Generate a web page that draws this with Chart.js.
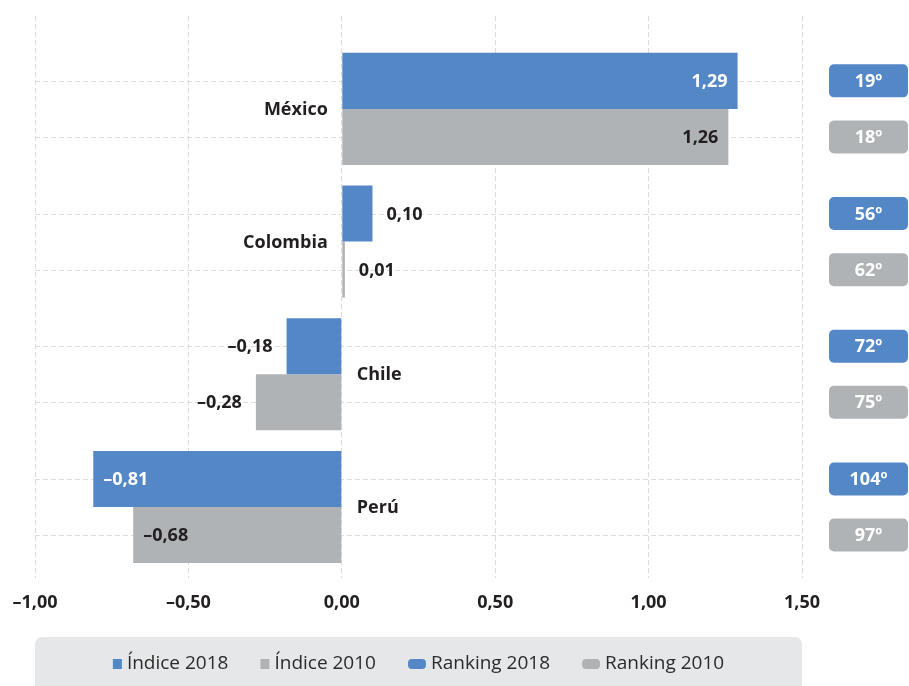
<!DOCTYPE html>
<html>
<head>
<meta charset="utf-8">
<script src="https://cdn.jsdelivr.net/npm/chart.js@4/dist/chart.umd.min.js"></script>
<style>
  html, body { margin: 0; padding: 0; background: #ffffff; }
  #wrap { width: 909px; height: 686px; }
</style>
</head>
<body>
<div id="wrap"><canvas id="chart" width="909" height="686"></canvas></div>
<script>
// Countries and their index values
const categories = ['México', 'Colombia', 'Chile', 'Perú'];
const indice2018 = [1.29, 0.10, -0.18, -0.81];
const indice2010 = [1.26, 0.01, -0.28, -0.68];
// Position in the world ranking
const ranking2018 = [19, 56, 72, 104];
const ranking2010 = [18, 62, 75, 97];
// X axis ticks
const xTicks = [-1.00, -0.50, 0.00, 0.50, 1.00, 1.50];

const BLUE = '#5387c6';
const GRAY = '#b0b3b6';
const DARK = '#231f20';
const FONT = '"Open Sans", "Noto Sans", sans-serif';

const fmt = v => {
  const s = Math.abs(v).toFixed(2).replace('.', ',');
  return v < 0 ? '\u2013' + s : s;
};

// Dashed horizontal guides through each bar centre
const barGuides = {
  id: 'barGuides',
  beforeDatasetsDraw(chart) {
    const {ctx, chartArea} = chart;
    ctx.save();
    ctx.strokeStyle = '#dcdcdc';
    ctx.lineWidth = 1;
    ctx.setLineDash([5, 3]);
    chart.data.datasets.forEach((ds, di) => {
      chart.getDatasetMeta(di).data.forEach(el => {
        const y = Math.round(el.y) + 0.5;
        ctx.beginPath();
        ctx.moveTo(chartArea.left, y);
        ctx.lineTo(chartArea.right, y);
        ctx.stroke();
      });
    });
    ctx.restore();
  }
};

// Value labels, country names and ranking badges
const annotations = {
  id: 'annotations',
  afterDatasetsDraw(chart) {
    const {ctx, chartArea} = chart;
    const xs = chart.scales.x, ys = chart.scales.y;
    const zero = xs.getPixelForValue(0);
    ctx.save();
    ctx.textBaseline = 'middle';
    ctx.font = 'bold 18px ' + FONT;

    chart.data.datasets.forEach((ds, di) => {
      chart.getDatasetMeta(di).data.forEach((el, i) => {
        const v = ds.data[i].x;
        const sign = v >= 0 ? 1 : -1;
        let x, align, color;
        if (Math.abs(v) >= 0.5) {
          x = el.x - sign * 10;
          align = sign > 0 ? 'right' : 'left';
          color = di === 0 ? '#ffffff' : DARK;
        } else {
          x = el.x + sign * 14;
          align = sign > 0 ? 'left' : 'right';
          color = DARK;
        }
        ctx.fillStyle = color;
        ctx.textAlign = align;
        ctx.fillText(fmt(v), x, el.y + 1);

        // ranking badge
        const rank = (di === 0 ? ranking2018 : ranking2010)[i];
        const bx = chartArea.right + 27, bw = 79, bh = 33;
        ctx.fillStyle = di === 0 ? BLUE : GRAY;
        ctx.beginPath();
        ctx.roundRect(bx, el.y - bh / 2, bw, bh, 5);
        ctx.fill();
        ctx.fillStyle = '#ffffff';
        ctx.textAlign = 'center';
        ctx.fillText(rank + '\u00ba', bx + bw / 2, el.y + 1);
      });
    });

    // country names beside the zero line
    ctx.fillStyle = DARK;
    categories.forEach((name, i) => {
      const y = ys.getPixelForValue(i);
      if (indice2018[i] >= 0) {
        ctx.textAlign = 'right';
        ctx.fillText(name, zero - 14, y + 1);
      } else {
        ctx.textAlign = 'left';
        ctx.fillText(name, zero + 15, y + 1);
      }
    });
    ctx.restore();
  }
};

// Legend strip under the axis
const legendStrip = {
  id: 'legendStrip',
  afterDraw(chart) {
    const {ctx, chartArea, height} = chart;
    const top = height - 49;
    ctx.save();
    ctx.fillStyle = '#e6e7e9';
    ctx.beginPath();
    ctx.roundRect(chartArea.left, top, chartArea.right - chartArea.left, 60, [7, 7, 0, 0]);
    ctx.fill();

    const items = [
      {text: 'Índice 2018', color: BLUE, w: 9, h: 10, r: 0},
      {text: 'Índice 2010', color: GRAY, w: 9, h: 10, r: 0},
      {text: 'Ranking 2018', color: BLUE, w: 18, h: 10, r: 4},
      {text: 'Ranking 2010', color: GRAY, w: 18, h: 10, r: 4}
    ];
    ctx.font = '19px ' + FONT;
    const gap = 5, spacing = 32;
    items.forEach(it => { it.tw = ctx.measureText(it.text).width; it.total = it.w + gap + it.tw; });
    const totalW = items.reduce((s, it) => s + it.total, 0) + spacing * (items.length - 1);
    let x = (chartArea.left + chartArea.right) / 2 - totalW / 2;
    const cy = top + 27;
    ctx.textBaseline = 'middle';
    ctx.textAlign = 'left';
    items.forEach(it => {
      ctx.fillStyle = it.color;
      ctx.beginPath();
      ctx.roundRect(x, cy - it.h / 2, it.w, it.h, it.r);
      ctx.fill();
      ctx.fillStyle = '#2b2b2b';
      ctx.fillText(it.text, x + it.w + gap, cy);
      x += it.total + spacing;
    });
    ctx.restore();
  }
};

new Chart(document.getElementById('chart'), {
  type: 'bar',
  data: {
    datasets: [
      {
        label: 'Índice 2018',
        data: indice2018.map((v, i) => ({x: v, y: i})),
        backgroundColor: BLUE
      },
      {
        label: 'Índice 2010',
        data: indice2010.map((v, i) => ({x: v, y: i})),
        backgroundColor: GRAY
      }
    ]
  },
  options: {
    indexAxis: 'y',
    responsive: false,
    animation: false,
    datasets: {
      bar: {categoryPercentage: 0.845, barPercentage: 1.0}
    },
    layout: {padding: {left: 35, right: 107, top: 16, bottom: 58}},
    scales: {
      x: {
        type: 'linear',
        min: -1,
        max: 1.5,
        afterBuildTicks: scale => { scale.ticks = xTicks.map(v => ({value: v})); },
        afterFit: scale => {
          scale.paddingLeft = 0;
          scale.paddingRight = 0;
          scale.height = 50;
        },
        grid: {color: '#dcdcdc', lineWidth: 1, drawTicks: false},
        border: {display: false, dash: [5, 3]},
        ticks: {
          padding: 14,
          color: DARK,
          font: {family: FONT, size: 18, weight: 'bold'},
          callback: v => fmt(v)
        }
      },
      y: {
        type: 'linear',
        display: false,
        offset: false,
        reverse: true,
        min: -0.70,
        max: 3.535,
        afterBuildTicks: scale => { scale.ticks = categories.map((c, i) => ({value: i})); }
      }
    },
    plugins: {
      legend: {display: false},
      tooltip: {enabled: false}
    }
  },
  plugins: [barGuides, annotations, legendStrip]
});
</script>
</body>
</html>
